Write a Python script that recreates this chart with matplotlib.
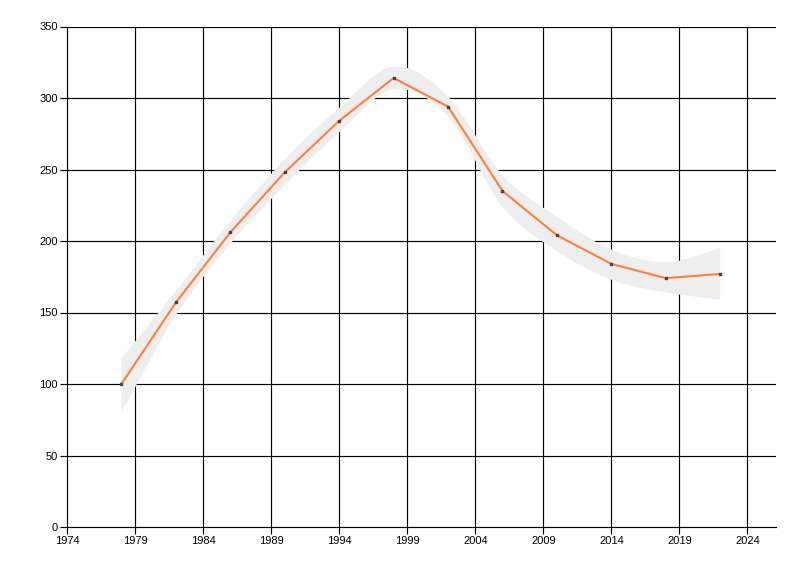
import numpy as np
import matplotlib
matplotlib.use("Agg")
from matplotlib import pyplot as plt
from matplotlib.path import Path
from matplotlib.patches import PathPatch

years = [1978, 1982, 1986, 1990, 1994, 1998, 2002, 2006, 2010, 2014, 2018, 2022]
values = [100, 157, 206, 248, 284, 314, 294, 235, 204, 184, 174, 177]
band_upper = [118, 165, 214, 257, 293, 322, 301, 246, 217, 194, 185, 195]
band_lower = [80, 148, 198, 239, 276, 306, 287, 224, 193, 173, 164, 159]

x_ticks = [1974, 1979, 1984, 1989, 1994, 1999, 2004, 2009, 2014, 2019, 2024]
y_ticks = [0, 50, 100, 150, 200, 250, 300, 350]


def bezier_segments(xs, ys):
    # catmull-rom through the points, returned as cubic bezier pieces
    pts = np.column_stack([xs, ys]).astype(float)
    n = len(pts)
    verts = []
    for i in range(n - 1):
        p0 = pts[max(i - 1, 0)]
        p1 = pts[i]
        p2 = pts[i + 1]
        p3 = pts[min(i + 2, n - 1)]
        c1 = p1 + (p2 - p0) / 6.0
        c2 = p2 - (p3 - p1) / 6.0
        verts += [tuple(c1), tuple(c2), tuple(p2)]
    return verts


def band_path(xs, upper, lower):
    verts = [(xs[0], upper[0])]
    codes = [Path.MOVETO]
    seg = bezier_segments(xs, upper)
    verts += seg
    codes += [Path.CURVE4] * len(seg)
    verts.append((xs[-1], lower[-1]))
    codes.append(Path.LINETO)
    seg = bezier_segments(xs[::-1], lower[::-1])
    verts += seg
    codes += [Path.CURVE4] * len(seg)
    verts.append((xs[0], upper[0]))
    codes.append(Path.CLOSEPOLY)
    return Path(verts, codes)


plt.rcParams['font.family'] = ['Liberation Sans', 'DejaVu Sans']

fig = plt.figure(figsize=(8, 5.76), dpi=100)
ax = fig.add_axes([67 / 800, 49 / 576, 709 / 800, 500.5 / 576])

ax.set_xlim(1974, 2026.1)
ax.set_ylim(0, 350)

for x in x_ticks[1:]:
    ax.axvline(x, color='black', lw=0.85, zorder=1)
for y in y_ticks[1:]:
    ax.axhline(y, color='black', lw=0.85, zorder=1)

ax.add_patch(PathPatch(band_path(years, band_upper, band_lower),
                       facecolor='#eeeeee', edgecolor='none', zorder=2))

ax.plot(years, values, color='#ff7f3f', lw=1.5, zorder=3)
ax.plot(years, values, ls='none', marker='s', ms=2, color='#444444', zorder=4)

ax.set_xticks(x_ticks)
ax.set_yticks(y_ticks)
ax.tick_params(axis='both', length=5, width=0.85, color='black', labelsize=8, pad=1.5)

for side in ['top', 'right']:
    ax.spines[side].set_visible(False)
for side in ['left', 'bottom']:
    ax.spines[side].set_linewidth(0.85)
    ax.spines[side].set_zorder(5)

fig.savefig('out.png', dpi=100)
